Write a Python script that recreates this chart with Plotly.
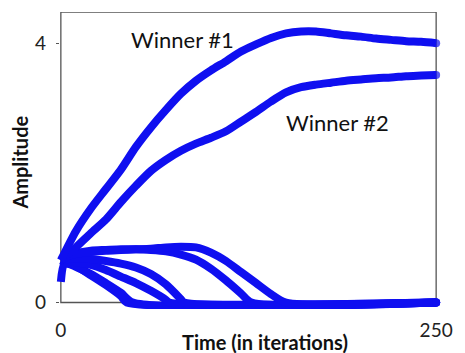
import plotly.graph_objects as go

# Amplitude of each unit over time (iterations)
t_w1 = [0, 10, 20, 30, 40, 50, 60, 70, 80, 90, 100, 110, 120, 130, 140, 150, 160, 170, 180, 190, 200, 210, 220, 230, 240, 250]
a_w1 = [0.65, 1.1, 1.45, 1.75, 2.05, 2.4, 2.7, 2.97, 3.22, 3.42, 3.58, 3.72, 3.87, 3.98, 4.08, 4.15, 4.18, 4.18, 4.15, 4.12, 4.1, 4.07, 4.05, 4.03, 4.02, 4.0]

t_w2 = [0, 10, 20, 30, 40, 50, 60, 70, 80, 90, 100, 110, 120, 130, 140, 150, 160, 170, 180, 190, 200, 210, 220, 230, 240, 250]
a_w2 = [0.65, 0.85, 1.07, 1.28, 1.55, 1.8, 2.03, 2.2, 2.34, 2.45, 2.54, 2.64, 2.79, 2.94, 3.1, 3.24, 3.32, 3.36, 3.39, 3.42, 3.44, 3.46, 3.47, 3.49, 3.5, 3.51]

t_l1 = [0, 5, 10, 20, 30, 40, 50, 60, 70, 80, 90, 100, 110, 120, 130, 140, 150, 250]
a_l1 = [0.65, 0.72, 0.75, 0.78, 0.8, 0.81, 0.82, 0.83, 0.85, 0.86, 0.85, 0.77, 0.64, 0.47, 0.3, 0.13, 0.0, 0.0]

t_l2 = [0, 5, 10, 20, 30, 40, 50, 60, 70, 80, 90, 100, 110, 120, 127, 250]
a_l2 = [0.65, 0.72, 0.76, 0.8, 0.81, 0.82, 0.82, 0.81, 0.79, 0.74, 0.66, 0.52, 0.34, 0.14, 0.0, 0.0]

t_l3 = [0, 5, 10, 20, 30, 40, 50, 60, 70, 80, 82, 250]
a_l3 = [0.65, 0.67, 0.68, 0.67, 0.64, 0.6, 0.54, 0.44, 0.28, 0.05, 0.0, 0.0]

t_l4 = [0, 5, 10, 20, 30, 40, 50, 60, 70, 72, 250]
a_l4 = [0.65, 0.64, 0.62, 0.58, 0.5, 0.4, 0.3, 0.18, 0.04, 0.0, 0.0]

t_l5 = [0, 2, 5, 10, 20, 30, 40, 44, 250]
a_l5 = [0.32, 0.58, 0.6, 0.56, 0.42, 0.27, 0.1, 0.0, 0.0]

t_l6 = [0, 5, 10, 20, 30, 40, 48, 250]
a_l6 = [0.65, 0.6, 0.55, 0.44, 0.3, 0.15, 0.0, 0.0]

series = [(t_l6, a_l6), (t_l5, a_l5), (t_l4, a_l4), (t_l3, a_l3), (t_l2, a_l2), (t_l1, a_l1),
          (t_w2, a_w2), (t_w1, a_w1)]

x_ticks = [0, 250]
y_ticks = [0, 4]
x_tick_text = ["0", "250"]
y_tick_text = ["0", "4"]

BLUE = "rgb(15,15,240)"
W, H = 465, 353
ML, MR, MT, MB = 56, 12, 12, 43
X_RANGE = [-3.23, 253.23]
Y_RANGE = [-0.1, 4.48]
PW, PH = W - ML - MR, H - MT - MB

fig = go.Figure()
for t, a in series:
    sizes = [0] * (len(t) - 1) + [8]
    fig.add_trace(go.Scatter(
        x=t, y=a, mode="lines+markers",
        line=dict(color=BLUE, width=8, shape="spline", smoothing=0.7),
        marker=dict(color=BLUE, size=sizes, line=dict(width=0)),
        hoverinfo="skip", showlegend=False,
    ))

# axes frame, drawn under the curves
fig.add_shape(type="rect", xref="x", yref="y", x0=0, x1=250, y0=0, y1=Y_RANGE[1],
              line=dict(color="#555555", width=1.3), layer="below")

tick_font = dict(family="Lato, 'Open Sans', sans-serif", size=19, color="#222222")
fig.update_xaxes(range=X_RANGE, showgrid=False, zeroline=False, showline=False,
                 tickmode="array", tickvals=x_ticks, ticktext=x_tick_text,
                 ticks="", tickfont=tick_font, ticklabelstandoff=8)
fig.update_yaxes(range=Y_RANGE, showgrid=False, zeroline=False, showline=False,
                 tickmode="array", tickvals=y_ticks, ticktext=y_tick_text,
                 ticks="inside", ticklen=3, tickcolor="#555555", tickfont=tick_font,
                 ticklabelstandoff=9)


def px(xp):
    return (xp - ML) / PW


def py(yp):
    return (H - MB - yp) / PH


label_font = dict(family="Lato, 'Open Sans', sans-serif", size=22, color="#111111")
title_font = dict(family="Lato, 'Open Sans', sans-serif", size=20, color="#111111")

fig.add_annotation(x=81, y=4.06, xref="x", yref="y", text="Winner #1", showarrow=False,
                   font=label_font, xanchor="center", yanchor="middle")
fig.add_annotation(x=184, y=2.78, xref="x", yref="y", text="Winner #2", showarrow=False,
                   font=label_font, xanchor="center", yanchor="middle")
fig.add_annotation(x=px(272), y=py(343), xref="paper", yref="paper",
                   text="<b>Time (in iterations)</b>", showarrow=False, font=title_font,
                   xanchor="center", yanchor="middle")
fig.add_annotation(x=px(19), y=py(163), xref="paper", yref="paper",
                   text="<b>Amplitude</b>", showarrow=False, font=title_font, textangle=-90,
                   xanchor="center", yanchor="middle")

fig.update_layout(width=W, height=H, margin=dict(l=ML, r=MR, t=MT, b=MB),
                  plot_bgcolor="white", paper_bgcolor="white")

fig.write_html("out.html")
